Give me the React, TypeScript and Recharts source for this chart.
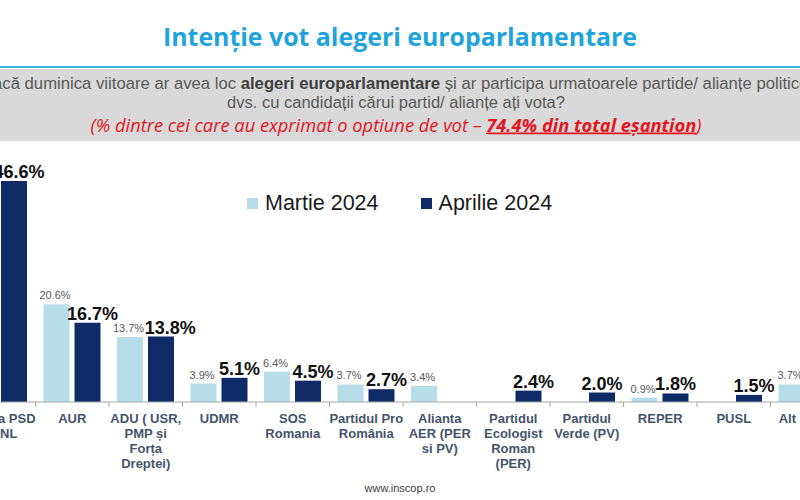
import React from "react";
import { BarChart, Bar, XAxis, YAxis, Legend, LabelList } from "recharts";

const categories = [
  "Alianta PSD\n+ PNL",
  "AUR",
  "ADU ( USR,\nPMP și\nForța\nDreptei)",
  "UDMR",
  "SOS\nRomania",
  "Partidul Pro\nRomânia",
  "Alianta\nAER (PER\nsi PV)",
  "Partidul\nEcologist\nRoman\n(PER)",
  "Partidul\nVerde (PV)",
  "REPER",
  "PUSL",
  "Alt partid",
];
const seriesNames = ["Martie 2024", "Aprilie 2024"];
const martie2024 = [43.4, 20.6, 13.7, 3.9, 6.4, 3.7, 3.4, null, null, 0.9, null, 3.7];
const aprilie2024 = [46.6, 16.7, 13.8, 5.1, 4.5, 2.7, null, 2.4, 2.0, 1.8, 1.5, 3.2];

const LIGHT = "#b7dde8";
const DARK = "#0e2a67";
const ARIAL = "'Liberation Sans', Arial, sans-serif";

// chart is wider than the view, the slide is cropped on both sides
const CHART_W = 882;
const CHART_LEFT = -38.5;
const BAND = CHART_W / categories.length;
const BAR_GAP = 5;

const data = categories.map((name, i) => ({
  name,
  martie: martie2024[i],
  aprilie: aprilie2024[i],
}));

const fmt = (v: any) => (v == null ? "" : `${Number(v).toFixed(1)}%`);

function CategoryTick({ x, y, payload }: any) {
  const lines = String(payload.value).split("\n");
  return (
    <g>
      <line x1={x - BAND / 2} x2={x - BAND / 2} y1={y} y2={y + 5} stroke="#a6a6a6" />
      <text
        x={x}
        y={y + 21}
        textAnchor="middle"
        fontFamily={ARIAL}
        fontSize={13}
        fontWeight="bold"
        fill="#44546a"
      >
        {lines.map((l, i) => (
          <tspan key={i} x={x} dy={i === 0 ? 0 : 15}>
            {l}
          </tspan>
        ))}
      </text>
    </g>
  );
}

// April label: nudged right next to a March label, further if the two would collide
function AprilLabel(props: any) {
  const { x, y, width, height, value, index } = props;
  if (value == null) return null;
  const m = martie2024[index];
  const cx = x + width / 2;
  let dx = 0;
  if (m != null) {
    dx = 5;
    const pxPerUnit = height / value;
    const marchTop = y + height - m * pxPerUnit - 5;
    const aprilTop = y - 3;
    const verticalClash = marchTop > aprilTop - 13 && marchTop - 9 < aprilTop;
    if (verticalClash) {
      const marchRight = cx - width - BAR_GAP - 1.5 + (fmt(m).length * 6.1) / 2;
      const aprilLeft = cx + dx - (fmt(value).length * 10.2) / 2;
      if (aprilLeft < marchRight + 1) dx += marchRight + 1 - aprilLeft;
    }
  }
  return (
    <text x={cx + dx} y={y - 3} textAnchor="middle" fontFamily={ARIAL} fontSize={18} fontWeight="bold" fill="#111111">
      {fmt(value)}
    </text>
  );
}

function LegendContent({ payload }: any) {
  const items = [...(payload || [])].sort(
    (a: any, b: any) => seriesNames.indexOf(a.value) - seriesNames.indexOf(b.value)
  );
  return (
    <div style={{ display: "flex", alignItems: "center", fontFamily: ARIAL, fontSize: 21.5, lineHeight: "26px", color: "#1a1a1a" }}>
      {items.map((p: any) => (
        <div key={p.value} style={{ display: "flex", alignItems: "center", marginRight: 42 }}>
          <span style={{ width: 11, height: 11, background: p.color, marginRight: 7, display: "inline-block" }} />
          <span>{p.value}</span>
        </div>
      ))}
    </div>
  );
}

function Header() {
  return (
    <svg width={800} height={150} style={{ position: "absolute", left: 0, top: 0 }}>
      <text
        x={400}
        y={46}
        textAnchor="middle"
        fontFamily="'Open Sans', sans-serif"
        fontWeight="bold"
        fontSize={25.5}
        fill="#1fa3dc"
        textLength={474}
        lengthAdjust="spacingAndGlyphs"
      >
        Intenție vot alegeri europarlamentare
      </text>
      <rect x={0} y={66} width={800} height={2} fill="#3cb4dc" />
      <rect x={0} y={69} width={800} height={72} fill="#d9d9d9" />
      <text x={-19} y={89} fontFamily={ARIAL} fontSize={16} fill="#595959" textLength={832} lengthAdjust="spacingAndGlyphs">
        Dacă duminica viitoare ar avea loc <tspan fontWeight="bold" fill="#404040">alegeri europarlamentare</tspan> și ar participa urmatoarele partide/ alianțe politice,
      </text>
      <text x={396} y={107.5} textAnchor="middle" fontFamily={ARIAL} fontSize={16} fill="#595959" textLength={338} lengthAdjust="spacingAndGlyphs">
        dvs. cu candidații cărui partid/ alianțe ați vota?
      </text>
      <text
        x={396}
        y={131.5}
        textAnchor="middle"
        fontFamily="'Open Sans', sans-serif"
        fontStyle="italic"
        fontSize={17.5}
        fill="#e3141f"
        textLength={611}
        lengthAdjust="spacingAndGlyphs"
      >
        (% dintre cei care au exprimat o optiune de vot –{" "}
        <tspan fontWeight="bold" textDecoration="underline">74.4% din total eșantion</tspan>)
      </text>
    </svg>
  );
}

export default function App() {
  return (
    <div style={{ position: "absolute", left: 0, top: 0, width: 800, height: 500, overflow: "hidden", background: "#fff" }}>
      <Header />
      <div style={{ position: "absolute", left: CHART_LEFT, top: 0 }}>
        <BarChart
          width={CHART_W}
          height={500}
          data={data}
          margin={{ top: 165, right: 0, bottom: 0, left: 0 }}
          barSize={26}
          barGap={BAR_GAP}
        >
          <XAxis
            dataKey="name"
            height={98}
            interval={0}
            tickSize={0}
            tickMargin={0}
            tickLine={false}
            axisLine={{ stroke: "#a6a6a6" }}
            tick={<CategoryTick />}
          />
          <YAxis hide domain={[0, 50]} />
          <Legend
            layout="horizontal"
            verticalAlign="middle"
            align="center"
            content={<LegendContent />}
            wrapperStyle={{ top: 190, left: 285.5, width: "auto" }}
          />
          <Bar dataKey="martie" name={seriesNames[0]} fill={LIGHT} isAnimationActive={false}>
            <LabelList
              dataKey="martie"
              position="top"
              offset={5}
              dx={-1.5}
              formatter={fmt}
              fontFamily={ARIAL}
              fontSize={11}
              fill="#595959"
            />
          </Bar>
          <Bar dataKey="aprilie" name={seriesNames[1]} fill={DARK} isAnimationActive={false}>
            <LabelList dataKey="aprilie" content={<AprilLabel />} />
          </Bar>
        </BarChart>
      </div>
      <svg width={800} height={500} style={{ position: "absolute", left: 0, top: 0, pointerEvents: "none" }}>
        <text x={400} y={492} textAnchor="middle" fontFamily={ARIAL} fontSize={11} fill="#404040">
          www.inscop.ro
        </text>
      </svg>
    </div>
  );
}
